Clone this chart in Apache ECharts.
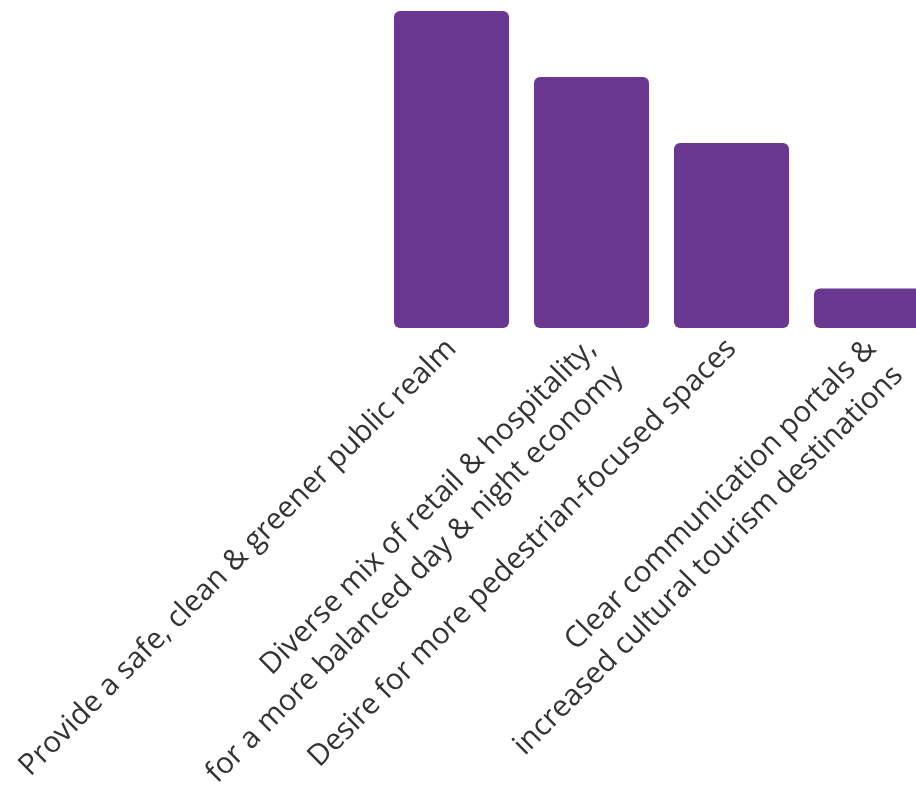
<!DOCTYPE html>
<html>
<head>
<meta charset="utf-8">
<script src="https://cdn.jsdelivr.net/npm/echarts@6/dist/echarts.min.js"></script>
<style>
  html, body { margin: 0; padding: 0; background: #fff; }
  #chart { width: 916px; height: 785px; }
</style>
</head>
<body>
<div id="chart"></div>
<script>
var categories = [
    'Provide a safe, clean & greener public realm',
    'Diverse mix of retail & hospitality,\nfor a more balanced day & night economy',
    'Desire for more pedestrian-focused spaces',
    'Clear communication portals &\nincreased cultural tourism destinations'
];
var values = [48, 38, 28, 6];

var chartDom = document.getElementById('chart');
var myChart = echarts.init(chartDom, null, { renderer: 'canvas' });

var option = {
    animation: false,
    grid: {
        left: 381.5,
        top: 11,
        width: 560,
        height: 317,
        outerBoundsMode: 'none',
        containLabel: false
    },
    xAxis: {
        type: 'category',
        data: categories,
        axisLine: { show: false },
        axisTick: { show: false },
        axisLabel: {
            rotate: 45,
            interval: 0,
            margin: 16,
            color: '#333333',
            fontFamily: 'Open Sans',
            fontSize: 29.5,
            lineHeight: 38,
            // two-line labels hang from their first line (empty line on top keeps it centred)
            formatter: function (value) {
                return value.indexOf('\n') >= 0 ? '\n' + value : value;
            }
        }
    },
    yAxis: {
        type: 'value',
        min: 0,
        max: 48,
        show: false,
        splitLine: { show: false }
    },
    series: [
        {
            type: 'bar',
            data: values,
            barWidth: 115,
            itemStyle: {
                color: '#6b3891',
                borderRadius: 6
            }
        }
    ]
};

myChart.setOption(option);
window.addEventListener('resize', function () {
    myChart.resize();
});
</script>
</body>
</html>
